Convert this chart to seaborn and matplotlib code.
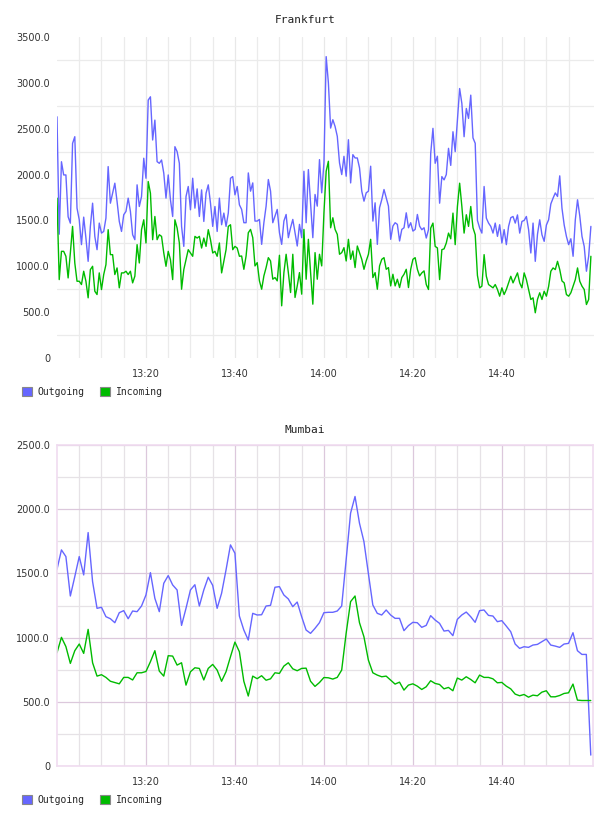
import numpy as np
import pandas as pd
import matplotlib
matplotlib.use("Agg")
import matplotlib.pyplot as plt
from matplotlib.patches import Patch
import seaborn as sns

# ---------------- data ----------------
series_names = ["Outgoing", "Incoming"]
series_colors = ["#6666ff", "#00bb00"]

x_tick_minutes = [20, 40, 60, 80, 100]
x_tick_labels = ["13:20", "13:40", "14:00", "14:20", "14:40"]

fr_title = "Frankfurt"
fr_step_min = 0.5
fr_out = [
    2630, 1350, 2140, 1996, 1996, 1540, 1470, 2340, 2413, 1634,
    1507, 1236, 1536, 1308, 1054, 1435, 1688, 1326, 1181, 1471,
    1362, 1380, 1525, 2087, 1688, 1797, 1906, 1707, 1489, 1380,
    1562, 1598, 1743, 1598, 1344, 1290, 1888, 1652, 1761, 2178,
    1960, 2812, 2848, 2377, 2594, 2141, 2123, 2159, 2015, 1743,
    1996, 1725, 1543, 2304, 2250, 2123, 1435, 1217, 1761, 1870,
    1616, 1960, 1634, 1844, 1543, 1833, 1489, 1797, 1888, 1688,
    1435, 1652, 1380, 1743, 1453, 1580, 1435, 1580, 1960, 1978,
    1779, 1870, 1670,
    1620, 1475, 1475, 2018, 1819, 1909, 1493,
    1493, 1511, 1239, 1475, 1656, 1946, 1819, 1475, 1547, 1620,
    1366, 1239, 1493, 1565, 1312, 1420, 1511, 1366, 1221, 1457,
    1312, 2036, 1475, 2054, 1674, 1312, 1783, 1656, 2163, 1801,
    2127, 3286, 3000, 2507, 2598, 2525, 2417, 2127, 2000, 2199,
    1982, 2380, 1909, 2217, 2181, 2181, 2072, 1819, 1710, 1801,
    1819, 2091, 1493, 1692, 1239, 1638, 1728, 1837, 1746, 1656,
    1294, 1438, 1475, 1457, 1276, 1402, 1420, 1583, 1420, 1475,
    1384, 1402, 1565, 1438,
    1399, 1420, 1308, 1399, 2232, 2504,
    2123, 2200, 1688, 1978, 1942, 2000, 2286, 2100, 2467, 2250,
    2594, 2938, 2775, 2413, 2721, 2612, 2866, 2400, 2341, 1500,
    1417, 1362, 1870, 1525, 1471, 1435, 1362, 1471, 1326, 1453,
    1254, 1400, 1236, 1435, 1530, 1543, 1471, 1560, 1362, 1489,
    1500, 1543, 1399, 1145, 1471, 1054, 1350, 1507, 1344, 1272,
    1450, 1507, 1680, 1743, 1800, 1761, 1986, 1634, 1450, 1326,
    1236, 1300, 1109, 1507, 1725, 1550, 1326, 1217, 946, 1109,
    1435,
]
fr_in = [
    1743, 855, 1163, 1163, 1109, 873, 1145, 1435, 1036, 837,
    837, 801, 946, 837, 656, 964, 1000, 728, 692, 928,
    746, 910, 1018, 1399, 1127, 1127, 910, 982, 765, 928,
    928, 946, 910, 946, 819, 892, 1236, 1036, 1399, 1507,
    1254, 1924, 1797, 1290, 1543, 1290, 1344, 1326, 1145, 1000,
    1163, 1072, 855, 1507, 1417, 1254, 750, 964, 1072, 1181,
    1145, 1109, 1326, 1308, 1326, 1199, 1308, 1217, 1399, 1290,
    1145, 1163, 1109, 1254, 928, 1054, 1181, 1435, 1453, 1181,
    1217, 1199, 1109,
    1112, 967, 1112, 1366, 1402, 1312, 1004,
    1040, 841, 750, 895, 986, 1094, 1058, 859, 877, 841,
    1120, 569, 931, 1131, 931, 714, 1131, 660, 786, 931,
    696, 1402, 859, 1294, 931, 587, 1149, 859, 1131, 1004,
    1583, 2036, 2145, 1420, 1529, 1402, 1348, 1131, 1149, 1203,
    1058, 1294, 1076, 1167, 986, 1221, 1149, 1076, 967, 1058,
    1131, 1294, 877, 931, 750, 1004, 1076, 1094, 967, 986,
    786, 913, 786, 859, 768, 877, 913, 967, 768, 967,
    1076, 1094, 967, 895,
    928, 950, 801, 747, 1417, 1471,
    1217, 1200, 855, 1181, 1190, 1254, 1362, 1300, 1580, 1236,
    1652, 1906, 1652, 1362, 1562, 1435, 1652, 1420, 1344, 900,
    765, 783, 1127, 891, 801, 783, 765, 801, 747, 674,
    765, 692, 747, 819, 891, 819, 873, 928, 819, 765,
    928, 855, 747, 638, 656, 493, 640, 711, 638, 728,
    674, 780, 946, 982, 964, 1054, 964, 840, 819, 692,
    674, 711, 783, 855, 982, 837, 783, 747, 583, 638,
    1109,
]
fr_yticks = [0, 500, 1000, 1500, 2000, 2500, 3000, 3500]
fr_ylabels = ["0", "500.0", "1000.0", "1500.0", "2000.0", "2500.0", "3000.0", "3500.0"]

mu_title = "Mumbai"
mu_step_min = 1.0
mu_out = [
    1532, 1683, 1631, 1324, 1475, 1631, 1488, 1818, 1436, 1228,
    1236, 1163, 1147, 1116, 1194, 1210, 1147, 1207, 1202, 1246,
    1332, 1506, 1306, 1202, 1423, 1483, 1410, 1371, 1095, 1228,
    1371, 1412, 1246, 1371, 1470, 1407, 1228, 1345, 1527, 1722,
    1657, 1168, 1059, 981, 1189, 1176, 1178, 1246, 1251, 1392,
    1397, 1332, 1301, 1241, 1277, 1163, 1059, 1033, 1072, 1116,
    1194, 1197, 1197, 1207, 1246, 1605, 1969, 2099, 1891, 1748,
    1500, 1254, 1189, 1176, 1215, 1176, 1150, 1150, 1054, 1093,
    1119, 1116, 1080, 1095, 1171, 1137, 1111, 1051, 1056, 1015,
    1142, 1176, 1199, 1163, 1119, 1210, 1215, 1173, 1168, 1124,
    1132, 1090, 1046, 950, 916, 929, 924, 942, 947, 968,
    989, 942, 934, 924, 950, 955, 1038, 898, 869, 869,
    85,
]
mu_in = [
    882, 1002, 930, 799, 898, 950, 877, 1064, 804, 700,
    711, 690, 660, 650, 640, 690, 690, 670, 726, 726,
    736, 812, 898, 739, 700, 859, 856, 786, 804, 630,
    734, 765, 760, 670, 760, 791, 747, 660, 734, 851,
    965, 890, 660, 545, 700, 680, 703, 668, 679, 726,
    721, 778, 804, 757, 742, 760, 762, 660, 620, 650,
    689, 687, 677, 690, 747, 1033, 1280, 1324, 1116, 1007,
    825, 726, 708, 695, 700, 669, 638, 653, 591, 630,
    640, 622, 596, 617, 664, 643, 635, 601, 612, 586,
    685, 669, 695, 674, 648, 708, 690, 690, 679, 648,
    651, 622, 601, 560, 547, 557, 536, 552, 547, 575,
    586, 539, 539, 549, 565, 570, 638, 513, 510, 510,
    510,
]
mu_yticks = [0, 500, 1000, 1500, 2000, 2500]
mu_ylabels = ["0", "500.0", "1000.0", "1500.0", "2000.0", "2500.0"]


def long_frame(out_vals, in_vals, step):
    rows = []
    for name, vals in zip(series_names, [out_vals, in_vals]):
        t = np.arange(len(vals)) * step
        rows.append(pd.DataFrame({"minute": t, "value": vals, "series": name}))
    return pd.concat(rows, ignore_index=True)


# ---------------- style ----------------
sns.set_style("white")
plt.rcParams["font.family"] = ["DejaVu Sans"]

W, H = 608, 816
fig = plt.figure(figsize=(W / 100, H / 100), dpi=100)

palette = dict(zip(series_names, series_colors))
mono = "DejaVu Sans Mono"
tick_color = "#333333"


def setup_axes(ax, yticks, ylabels, ymax, xmax, framed):
    ax.set_xlim(0, xmax)
    ax.set_ylim(0, ymax)
    ax.set_xticks(x_tick_minutes)
    ax.set_xticklabels(x_tick_labels)
    ax.set_xticks(np.arange(5, 120, 5), minor=True)
    ax.set_yticks(yticks)
    ax.set_yticklabels(ylabels)
    ax.set_yticks(np.arange(250, ymax, 500), minor=True)
    ax.tick_params(which="both", length=0)
    ax.tick_params(axis="y", pad=5, labelsize=7, labelcolor=tick_color)
    ax.tick_params(axis="x", pad=8, labelsize=7, labelcolor=tick_color)
    ax.set_xlabel("")
    ax.set_ylabel("")
    if framed:
        ax.grid(which="major", axis="both", color="#dcc8dc", lw=0.9)
        ax.grid(which="minor", axis="both", color="#e6e2e6", lw=0.9)
        for s in ax.spines.values():
            s.set_visible(True)
            s.set_color("#f0dcf0")
            s.set_linewidth(1.2)
    else:
        ax.grid(which="major", axis="x", color="#e8e8e8", lw=0.9)
        ax.grid(which="minor", axis="both", color="#ebebeb", lw=0.9)
        ax.grid(which="major", axis="y", visible=False)
        for s in ax.spines.values():
            s.set_visible(False)
    ax.set_axisbelow(True)


def add_legend(y_px):
    handles = [Patch(facecolor=c, edgecolor="#888888", linewidth=0.8, label=n)
               for n, c in zip(series_names, series_colors)]
    fig.legend(handles=handles, loc="center left",
               bbox_to_anchor=(22 / W, 1 - y_px / H), bbox_transform=fig.transFigure,
               ncol=2, frameon=False, borderpad=0, borderaxespad=0,
               handlelength=1.0, handleheight=1.0, handletextpad=0.6,
               columnspacing=1.6, prop={"family": mono, "size": 7})


# Frankfurt
ax1 = fig.add_axes([57 / W, (H - 358) / H, 537 / W, 321 / H])
df1 = long_frame(fr_out, fr_in, fr_step_min)
sns.lineplot(data=df1, x="minute", y="value", hue="series", palette=palette,
             hue_order=series_names, ax=ax1, legend=False, linewidth=1.0)
setup_axes(ax1, fr_yticks, fr_ylabels, 3500, 120.7, framed=False)
fig.text(305 / W, 1 - 20 / H, fr_title, ha="center", va="center",
         family=mono, fontsize=8, color="#222222")
add_legend(392)

# Mumbai
ax2 = fig.add_axes([57 / W, (H - 766) / H, 536 / W, 321 / H])
df2 = long_frame(mu_out, mu_in, mu_step_min)
sns.lineplot(data=df2, x="minute", y="value", hue="series", palette=palette,
             hue_order=series_names, ax=ax2, legend=False, linewidth=1.0)
setup_axes(ax2, mu_yticks, mu_ylabels, 2500, 120.5, framed=True)
fig.text(305 / W, 1 - 430 / H, mu_title, ha="center", va="center",
         family=mono, fontsize=8, color="#222222")
add_legend(800)

fig.savefig("out.png", dpi=100)
